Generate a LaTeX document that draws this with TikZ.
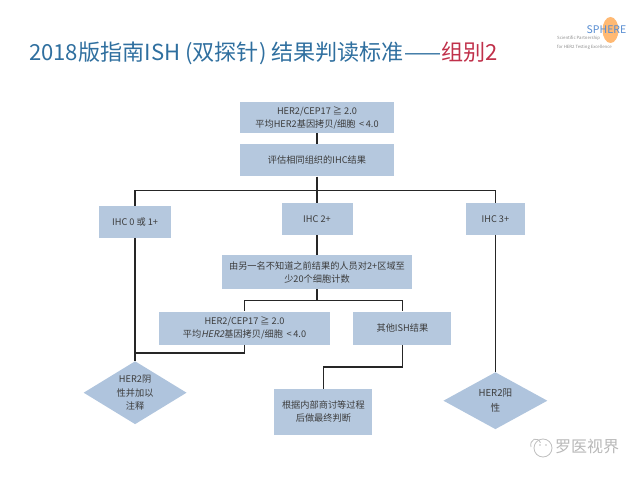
\documentclass[tikz,border=0pt]{standalone}
\usepackage{fontspec}
\usepackage{xcolor}
\usetikzlibrary{positioning,shapes.geometric}
\setmainfont{Noto Sans CJK SC}
\newfontfamily\geneit[FakeSlant=0.2]{Noto Sans CJK SC}
\definecolor{boxblue}{HTML}{B5C8DE}
\definecolor{diablue}{HTML}{AFC4DD}
\definecolor{titleblue}{HTML}{2F6F9F}
\definecolor{titlered}{HTML}{C0304A}
\definecolor{textgrey}{HTML}{3C3C3C}
\begin{document}
\begin{tikzpicture}
[
box-a/.style={rectangle, fill=boxblue, inner sep=0pt, align=center, text=textgrey, font=\fontsize{9.2pt}{13pt}\selectfont},
dia-a/.style={diamond, fill=diablue, inner sep=0pt},
text-a/.style={text=textgrey, align=center, inner sep=0pt, font=\fontsize{9.2pt}{13.5pt}\selectfont},
line-a/.style={draw=black!85, line width=1.5pt},
mark-a/.style={text=black!28, inner sep=0pt}
]
\useasboundingbox (0,0) rectangle (640pt,480pt);

\node (title) [anchor=west, inner sep=0pt, text=titleblue, font=\fontsize{22.1pt}{26pt}\selectfont] at (29pt,427pt)
  {2018版指南ISH (双探针) 结果判读标准——\textcolor{titlered}{组别2}};

\node (box-top)   [box-a, minimum width=154pt, minimum height=31pt] at (317pt,362.5pt) {HER2/CEP17 ≧ 2.0\\平均HER2基因拷贝/细胞 \,<\,4.0};
\node (box-eval)  [box-a, minimum width=154pt, minimum height=32pt, below = 11pt of box-top] {评估相同组织的IHC结果};
\coordinate [below = 14pt of box-eval] (bus-1);
\node (box-ihc2)  [box-a, minimum width=71pt, minimum height=32pt, below = 12pt of bus-1] {IHC 2+};
\node (box-ihc0)  [box-a, minimum width=72pt, minimum height=32pt, left = 110pt of box-ihc2, yshift=-3pt] {IHC 0 或 1+};
\node (box-ihc3)  [box-a, minimum width=59pt, minimum height=32pt, right = 113pt of box-ihc2] {IHC 3+};
\node (box-count) [box-a, minimum width=190pt, minimum height=34pt, below = 20pt of box-ihc2] {由另一名不知道之前结果的人员对2+区域至\\少20个细胞计数};
\coordinate [below = 11pt of box-count] (bus-2);
\node (box-left)  [box-a, minimum width=171pt, minimum height=33pt, below = 22pt of box-count, xshift=-72.5pt] {HER2/CEP17 ≧ 2.0\\平均{\geneit HER2}基因拷贝/细胞 \,<\,4.0};
\node (box-other) [box-a, minimum width=98pt, minimum height=33pt, right = 23pt of box-left] {其他ISH结果};
\node (box-final) [box-a, minimum width=98pt, minimum height=46pt, below = 44pt of box-other, xshift=-79pt] {根据内部商讨等过程\\后做最终判断};
\node (dia-neg)   [dia-a, minimum width=103pt, minimum height=63pt, below = 123pt of box-ihc0] {};
\node (dia-pos)   [dia-a, minimum width=104pt, minimum height=57pt, below = 137pt of box-ihc3] {};
\node (dia-neg-t) [text-a] at (dia-neg.center) {HER2阴\\性并加以\\注释};
\node (dia-pos-t) [text-a, font=\fontsize{9.6pt}{15pt}\selectfont] at (dia-pos.center) {HER2阳\\性};

\draw [line-a] (box-top) -- (box-eval);
\draw [line-a] (box-eval) -- (box-ihc2);
\draw [line-a] (bus-1) -| (box-ihc0.north);
\draw [line-a] (bus-1) -| (box-ihc3.north);
\draw [line-a] (box-ihc0) -- (dia-neg.north);
\draw [line-a] (box-ihc2) -- (box-count);
\draw [line-a] (box-ihc3) -- (dia-pos.north);
\draw [line-a] (box-count) -- (bus-2);
\draw [line-a] (bus-2) -| (box-left.north);
\draw [line-a] (bus-2) -| (box-other.north);
\draw [line-a] (box-left.south) -- ++(0,-8pt) -| (dia-neg.north);
\draw [line-a] (box-other.south) -- ++(0,-22pt) -| (box-final.north);

% logo
\fill [orange!55] (610.5pt,450pt) ellipse (8pt and 13pt);
\node (logo)   [inner sep=0pt, text=cyan!50!blue!70, font=\fontsize{10.5pt}{10.5pt}\selectfont] at (606.5pt,450pt) {SPHERE};
\node (logo-a) [inner sep=0pt, anchor=west, text=black!45, align=left, font=\fontsize{4.3pt}{8.5pt}\selectfont] at (557pt,437pt) {Scientific Partnership\\for HER2 Testing Excellence};

% watermark
\draw [black!25, line width=0.8pt] (543pt,32pt) circle (9pt);
\draw [black!25, line width=0.8pt] (531pt,33pt) arc (200:20:5pt and 6pt);
\fill [black!25] (540pt,35pt) circle (0.9pt) (546pt,35pt) circle (0.9pt);
\node (mark) [mark-a, anchor=west, font=\fontsize{16pt}{16pt}\selectfont] at (555pt,34pt) {罗医视界};
\end{tikzpicture}
\end{document}
